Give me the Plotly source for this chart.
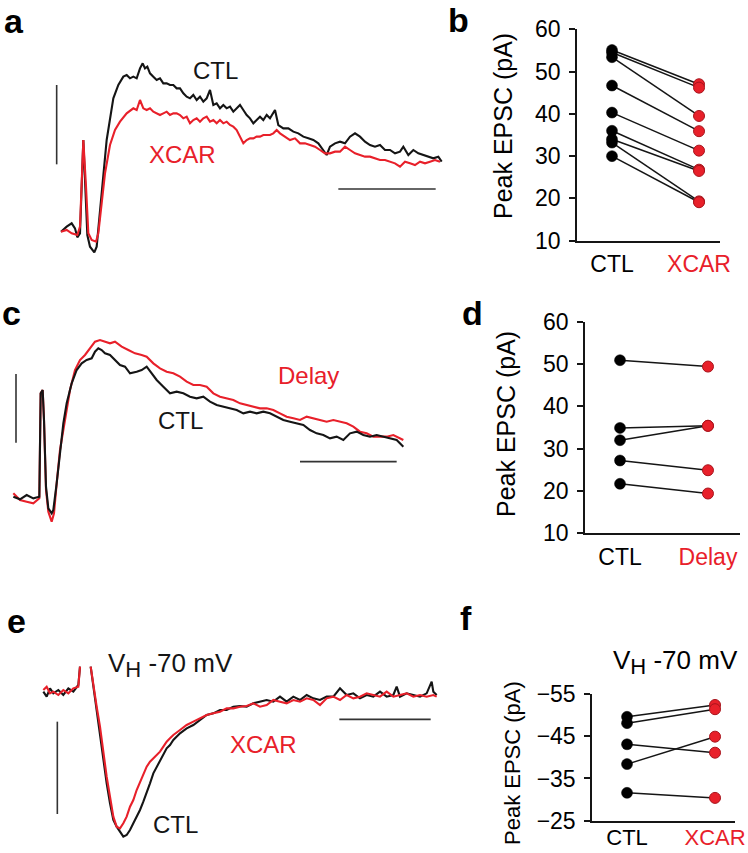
import plotly.graph_objects as go

RED = "#e8202a"
RED_EDGE = "#a8141c"
BLACK = "#151515"
FONT = "Liberation Sans, Arial, Helvetica, sans-serif"

# ---------------- Panel a: EPSC traces (time in samples, current in pA) ----------------
a_ctl_t = [0, 17, 32, 42, 49, 57, 67, 79, 87, 100, 107, 117, 127, 137, 157, 172, 187, 197, 207, 217,
           227, 237, 245, 252, 259, 267, 277, 287, 297, 307, 317, 327, 337, 347, 357, 367, 377, 387, 397,
           407, 417, 427, 437, 447, 457, 467, 477, 487, 497, 507, 517, 527, 537, 547, 557, 567, 577, 587,
           597, 607, 617, 627, 642, 652, 667, 682, 697, 712, 727, 742, 757, 772, 787, 797, 807, 822, 837,
           852, 867, 882, 897, 912, 927, 942, 957, 972, 987, 1002, 1017, 1027, 1042, 1057, 1072, 1087,
           1102, 1117, 1132, 1142]
a_ctl_i = [0, 1.5, 2.5, 1.0, -1.7, -0.5, 27.5, -1.0, -4.5, -6.2, -4.5, 5.5, 17.5, 27.5, 40, 44, 46.5, 47,
           46, 46.5, 46, 49, 50.5, 49, 49.5, 47.5, 46.5, 45.5, 46, 44.5, 44.5, 44, 44, 43, 43, 41.5, 40.5,
           40, 41, 39.5, 40.5, 39, 40, 42.5, 38, 38.5, 37, 38, 37, 37.5, 36, 37, 38, 36.5, 35, 34, 32.5,
           33.5, 34.5, 33.5, 35, 34, 36.5, 32, 31, 31, 30, 29.5, 28.5, 28, 27.5, 26.5, 24.5, 23, 25.5,
           26.5, 27, 26.5, 28.5, 29.5, 28.5, 27, 26, 25.5, 26, 24.5, 24.5, 23.5, 24, 25.5, 23, 24.5, 23.5,
           23, 22.5, 22, 22.5, 21]
a_xcar_t = [0, 17, 32, 49, 57, 67, 75, 82, 92, 105, 112, 122, 132, 147, 162, 177, 197, 217, 227, 237,
            247, 257, 267, 277, 287, 297, 307, 317, 327, 337, 347, 357, 367, 377, 387, 397, 407, 417, 427,
            437, 447, 457, 467, 477, 487, 497, 507, 517, 527, 537, 547, 557, 567, 577, 587, 597, 607, 617,
            627, 637, 647, 657, 672, 687, 702, 717, 732, 747, 762, 777, 792, 807, 822, 837, 852, 867, 882,
            897, 912, 927, 942, 957, 972, 987, 1002, 1017, 1032, 1047, 1062, 1077, 1092, 1107, 1122, 1137]
a_xcar_i = [0, 0.5, -0.5, -1.0, 1.5, 27.5, 13.5, -0.5, -2.5, -3.0, -0.5, 9.5, 17.5, 26, 30.5, 33, 35.5,
            37, 36.5, 39.5, 37, 36.5, 37, 36, 35.5, 35, 35.5, 36, 35, 35.5, 35.5, 35, 34, 34.5, 32.5, 33.5,
            34, 33, 34, 34.5, 33, 33.5, 32.5, 33.5, 32.5, 33, 32, 31.5, 30.5, 28.5, 26.5, 27.5, 28, 28,
            28.5, 28.5, 29, 29, 29, 29.5, 30.5, 29.5, 28.5, 27.5, 28, 26.5, 26.5, 26, 25.5, 24.5, 23.5,
            23.5, 24, 24, 25.5, 24.5, 23.5, 23, 22.5, 22.5, 22, 21.5, 21.5, 21, 20.5, 19.5, 21, 20.5, 20,
            21, 20.5, 21, 21.5, 21]

# ---------------- Panel c ----------------
c_ctl_t = [0, 20, 40, 60, 78, 82, 88, 92, 98, 105, 115, 120, 130, 140, 150, 160, 175, 190, 205, 220, 235,
           245, 255, 265, 275, 290, 305, 320, 335, 350, 370, 385, 400, 415, 430, 450, 470, 490, 510, 530,
           550, 570, 590, 610, 630, 650, 670, 690, 710, 730, 750, 770, 790, 810, 830, 850, 870, 890, 910,
           930, 950, 970, 990, 1010, 1030, 1050, 1070, 1090, 1110, 1130, 1150, 1170]
c_ctl_i = [0.5, -0.3, 1.0, 0, 0.5, 31.5, 32.5, 23.5, 3.5, -3.0, -4.5, -3.5, 4.5, 13.5, 22.5, 28.5, 34.5,
           38.5, 40.5, 41.5, 42.0, 44.0, 45.0, 44.5, 43.5, 43.0, 41.5, 40.0, 39.5, 37.5, 38.0, 38.5, 39.5,
           37.5, 35.5, 33.5, 31.5, 32.0, 31.5, 30.5, 30.0, 30.5, 29.0, 28.0, 27.5, 27.0, 26.5, 25.5, 26.0,
           25.5, 26.0, 25.5, 24.5, 23.5, 23.0, 22.5, 22.0, 20.5, 19.5, 19.0, 18.0, 18.5, 17.5, 19.5, 20.0,
           19.0, 18.5, 19.0, 18.5, 18.0, 17.5, 15.5]
c_delay_t = [0, 20, 40, 60, 78, 82, 88, 92, 98, 105, 115, 122, 130, 140, 155, 170, 185, 200, 215, 230,
             245, 260, 275, 290, 305, 325, 345, 365, 385, 400, 420, 440, 460, 480, 500, 520, 540, 560, 580,
             600, 620, 640, 660, 680, 700, 720, 740, 760, 780, 800, 820, 840, 860, 880, 900, 920, 940, 960,
             980, 1000, 1020, 1040, 1060, 1080, 1100, 1120, 1140, 1160, 1170]
c_delay_i = [1.5, -0.5, -1.0, -1.5, 0, 31.5, 32.5, 23.5, 2.5, -4.0, -7.0, -4.5, 4.5, 14.5, 23.5, 32.5,
             38.5, 41.5, 43.0, 45.0, 47.0, 47.5, 47.0, 46.5, 47.0, 45.5, 44.5, 43.5, 43.0, 42.5, 40.5, 39.0,
             38.0, 37.5, 36.5, 35.0, 34.0, 34.0, 33.5, 31.5, 30.5, 30.0, 29.5, 28.5, 28.0, 27.5, 27.0, 27.0,
             26.5, 25.5, 24.5, 24.0, 23.5, 24.5, 24.0, 23.5, 23.0, 23.5, 23.0, 22.5, 21.5, 20.0, 19.5, 18.5,
             18.5, 18.5, 19.0, 18.0, 17.5]

# ---------------- Panel e (V_H -70 mV) ----------------
e_ctl_t = [0, 10, 20, 30, 45, 60, 75, 90, 105, 110, None, 142, 150, 160, 170, 180, 190, 200, 210, 220,
           230, 240, 250, 260, 270, 280, 290, 300, 310, 320, 330, 340, 350, 360, 370, 380, 390, 410, 430,
           450, 470, 490, 510, 530, 550, 570, 590, 610, 630, 650, 670, 690, 710, 730, 750, 770, 790, 810,
           830, 850, 870, 890, 910, 930, 950, 970, 990, 1010, 1030, 1050, 1060, 1070, 1090, 1110, 1130,
           1150, 1165, 1170, 1180]
e_ctl_i = [0, -1.5, 1.0, -0.5, 0.5, -1.0, 1.0, 0, 2.0, 7.5, None, 7.5, 1.5, -5.5, -12.5, -20.5, -27.5,
           -33.5, -38.5, -40.5, -42.0, -43.5, -43.0, -41.5, -39.5, -37.5, -35.5, -33.0, -30.5, -27.5, -24.5,
           -22.5, -20.5, -18.5, -17.0, -16.0, -14.5, -12.5, -11.0, -10.0, -8.5, -7.0, -6.5, -5.5, -5.5, -4.5,
           -4.3, -4.5, -3.5, -3.0, -2.5, -3.0, -1.5, -3.0, -1.5, -2.5, -1.0, -2.0, -2.5, -1.5, -1.5, 1.0,
           -1.0, -0.5, -2.0, -1.0, -1.5, 0, -1.5, -1.0, 1.5, -1.5, -0.5, -1.0, -1.5, -0.5, 3.0, 0, -1.0]
e_xcar_t = [0, 10, 20, 30, 45, 60, 75, 90, 105, 110, None, 142, 150, 160, 170, 180, 190, 200, 210, 220,
            230, 240, 250, 260, 270, 280, 290, 300, 310, 320, 330, 340, 350, 360, 370, 380, 390, 410, 430,
            450, 470, 490, 510, 530, 550, 570, 590, 610, 630, 650, 670, 690, 710, 730, 750, 770, 790, 810,
            830, 850, 870, 890, 910, 930, 950, 970, 990, 1010, 1030, 1050, 1070, 1090, 1110, 1130, 1150,
            1170, 1180]
e_xcar_i = [0.5, 1.5, -0.5, 0, -1.0, 0.5, -0.5, 1.0, 1.5, 7.5, None, 7.5, 1.5, -4.5, -10.5, -18.5, -25.5,
            -31.5, -37.5, -40.5, -41.0, -39.5, -37.5, -34.5, -32.5, -29.5, -27.0, -24.5, -22.5, -21.0, -20.0,
            -19.0, -18.0, -16.5, -15.0, -14.0, -13.0, -11.5, -10.0, -9.0, -8.0, -7.0, -6.5, -6.0, -5.0, -5.0,
            -4.5, -4.3, -3.5, -4.5, -4.0, -2.5, -3.0, -3.5, -2.5, -3.0, -2.0, -2.5, -4.0, -2.0, -1.5, -2.5,
            -1.0, -2.0, -1.5, -0.5, -1.0, -1.5, 0, -1.5, -1.0, -0.5, -1.5, -1.0, -1.5, -1.0, -1.5]

# ---------------- Paired peak EPSC data ----------------
b_ctl = [55.1, 54.5, 53.4, 46.7, 40.3, 36.0, 34.0, 33.2, 30.0]
b_xcar = [47.0, 46.2, 39.5, 35.9, 31.3, 26.8, 26.5, 19.3, 19.1]
d_ctl = [50.9, 34.9, 32.0, 27.2, 21.7]
d_delay = [49.4, 35.4, 35.4, 24.9, 19.4]
f_ctl = [-49.6, -48.1, -43.1, -38.4, -31.6]
f_xcar = [-52.4, -51.4, -41.1, -44.9, -30.4]

b_cats = ["CTL", "XCAR"]
d_cats = ["CTL", "Delay"]
f_cats = ["CTL", "XCAR"]
ticks_pos = [10, 20, 30, 40, 50, 60]
ticks_neg = [-55, -45, -35, -25]

# scale bars (data units of each trace panel)
a_vbar_t, a_vbar_i = [-13, -13], [20.2, 44.0]
a_hbar_t, a_hbar_i = [832, 1124], [12.8, 12.8]
c_vbar_t, c_vbar_i = [8, 8], [16.7, 37.3]
c_hbar_t, c_hbar_i = [860, 1150], [11.0, 11.0]
e_vbar_t, e_vbar_i = [42, 42], [-36.7, -9.0]
e_hbar_t, e_hbar_i = [888, 1162], [-8.3, -8.3]

fig = go.Figure()


def trace_line(t, i, color, ax):
    fig.add_trace(go.Scatter(x=t, y=i, mode="lines", line=dict(color=color, width=2.1),
                             connectgaps=False, xaxis="x" + ax, yaxis="y" + ax, showlegend=False,
                             hoverinfo="skip"))


def bar(t, i, ax):
    fig.add_shape(type="line", x0=t[0], x1=t[1], y0=i[0], y1=i[1],
                  xref="x" + ax, yref="y" + ax, line=dict(color="#333333", width=1.6))


# panel a (xaxis/yaxis '')
trace_line(a_ctl_t, a_ctl_i, BLACK, "")
trace_line(a_xcar_t, a_xcar_i, RED, "")
bar(a_vbar_t, a_vbar_i, "")
bar(a_hbar_t, a_hbar_i, "")
# panel c
trace_line(c_delay_t, c_delay_i, RED, "3")
trace_line(c_ctl_t, c_ctl_i, BLACK, "3")
bar(c_vbar_t, c_vbar_i, "3")
bar(c_hbar_t, c_hbar_i, "3")
# panel e
trace_line(e_ctl_t, e_ctl_i, BLACK, "5")
trace_line(e_xcar_t, e_xcar_i, RED, "5")
bar(e_vbar_t, e_vbar_i, "5")
bar(e_hbar_t, e_hbar_i, "5")


def paired(ctl, trt, ax):
    for c, t in zip(ctl, trt):
        fig.add_trace(go.Scatter(x=[0, 1], y=[c, t], mode="lines", line=dict(color=BLACK, width=1.5),
                                 xaxis="x" + ax, yaxis="y" + ax, showlegend=False, hoverinfo="skip"))
    fig.add_trace(go.Scatter(x=[0] * len(ctl), y=ctl, mode="markers",
                             marker=dict(size=11, color="black", line=dict(color="black", width=0.5)),
                             xaxis="x" + ax, yaxis="y" + ax, showlegend=False))
    fig.add_trace(go.Scatter(x=[1] * len(trt), y=trt, mode="markers",
                             marker=dict(size=11, color=RED, line=dict(color=RED_EDGE, width=1)),
                             xaxis="x" + ax, yaxis="y" + ax, showlegend=False))


paired(b_ctl, b_xcar, "2")
paired(d_ctl, d_delay, "4")
paired(f_ctl, f_xcar, "6")

H = 853.0
W = 748.0


def ydom(top_px, bot_px):
    return [1 - bot_px / H, 1 - top_px / H]


def xdom(l_px, r_px):
    return [l_px / W, r_px / W]


hidden = dict(visible=False, showgrid=False, zeroline=False, automargin=False)


def cat_x(dom, rng, cats, standoff=2, size=23):
    return dict(domain=dom, range=rng, showline=True, linecolor=BLACK, linewidth=1.5,
                tickvals=[0, 1],
                ticktext=[cats[0], '<span style="color:%s">%s</span>' % (RED, cats[1])],
                ticks="", ticklen=0, showgrid=False, zeroline=False, ticklabelstandoff=standoff,
                automargin=False,
                tickfont=dict(size=size, color="black", family=FONT), fixedrange=True)


def cat_y(dom, rng, tv):
    return dict(domain=dom, range=rng, showline=True, linecolor=BLACK, linewidth=1.5,
                tickvals=tv, ticks="outside", ticklen=6, tickwidth=1.5, tickcolor=BLACK,
                showgrid=False, zeroline=False, ticklabelstandoff=4, automargin=False,
                tickfont=dict(size=23, color="black", family=FONT), fixedrange=True)


fig.update_layout(
    width=748, height=853, margin=dict(l=0, r=0, t=0, b=0, autoexpand=False),
    paper_bgcolor="white", plot_bgcolor="rgba(0,0,0,0)",
    font=dict(family=FONT, color="black"),
    xaxis=dict(domain=xdom(40, 450), range=[-63, 1167], **hidden),
    yaxis=dict(domain=ydom(55, 265), range=[-10, 53], **hidden),
    xaxis3=dict(domain=xdom(0, 450), range=[-40, 1310], anchor="y3", **hidden),
    yaxis3=dict(domain=ydom(330, 535), range=[-11, 50.5], anchor="x3", **hidden),
    xaxis5=dict(domain=xdom(0, 450), range=[-130, 1220], anchor="y5", **hidden),
    yaxis5=dict(domain=ydom(640, 850), range=[-47.5, 15.5], anchor="x5", **hidden),
    xaxis2=dict(anchor="y2", **cat_x(xdom(577, 720), [-0.402, 1.241], b_cats)),
    yaxis2=dict(anchor="x2", **cat_y(ydom(29.3, 240.7), [10, 60], ticks_pos)),
    xaxis4=dict(anchor="y4", **cat_x(xdom(585, 740), [-0.398, 1.364], d_cats)),
    yaxis4=dict(anchor="x4", **cat_y(ydom(321.7, 533.3), [10, 60], ticks_pos)),
    xaxis6=dict(anchor="y6", **cat_x(xdom(592, 735), [-0.398, 1.227], f_cats, -4, 22)),
    yaxis6=dict(anchor="x6", **cat_y(ydom(694, 820.7), [-25, -55], ticks_neg)),
)

ann = []


def label(txt, x, y, size=34):
    ann.append(dict(text="<b>%s</b>" % txt, x=x / W, y=1 - y / H, xref="paper", yref="paper",
                    xanchor="left", yanchor="middle", showarrow=False,
                    font=dict(size=size, color="black", family=FONT)))


label("a", 2, 21)
label("b", 446, 20)
label("c", 0, 313)
label("d", 460, 313)
label("e", 5, 621)
label("f", 458, 618)


def ytitle(x, y, size):
    ann.append(dict(text="Peak EPSC (pA)", x=x / W, y=1 - y / H, xref="paper", yref="paper",
                    xanchor="center", yanchor="middle", textangle=-90, showarrow=False,
                    font=dict(size=size, color="black", family=FONT)))


ytitle(503, 126, 25)
ytitle(506, 424, 25)
ytitle(512, 763, 22)

VH = 'V<sub><span style="font-size:22px">H</span></sub> -70 mV'


def dtext(txt, x, y, ax, color, size=24):
    ann.append(dict(text=txt, x=x, y=y, xref="x" + ax, yref="y" + ax, xanchor="center",
                    yanchor="middle", showarrow=False, font=dict(size=size, color=color, family=FONT)))


dtext("CTL", 462, 48.3, "", BLACK)
dtext("XCAR", 365, 23.3, "", RED)
dtext("Delay", 885, 36.8, "3", RED)
dtext("CTL", 500, 23.5, "3", BLACK)
dtext(VH, 380, 8.0, "5", BLACK, 26)
dtext("XCAR", 660, -15.7, "5", RED)
dtext("CTL", 395, -39.7, "5", BLACK)

ann.append(dict(text=VH, x=675 / W, y=1 - 662 / H, xref="paper", yref="paper",
                xanchor="center", yanchor="middle", showarrow=False,
                font=dict(size=26, color="black", family=FONT)))

fig.update_layout(annotations=ann)
fig.write_html("out.html", config={"displayModeBar": False},
               post_script="document.body.style.margin='0';document.body.style.overflow='hidden';")
